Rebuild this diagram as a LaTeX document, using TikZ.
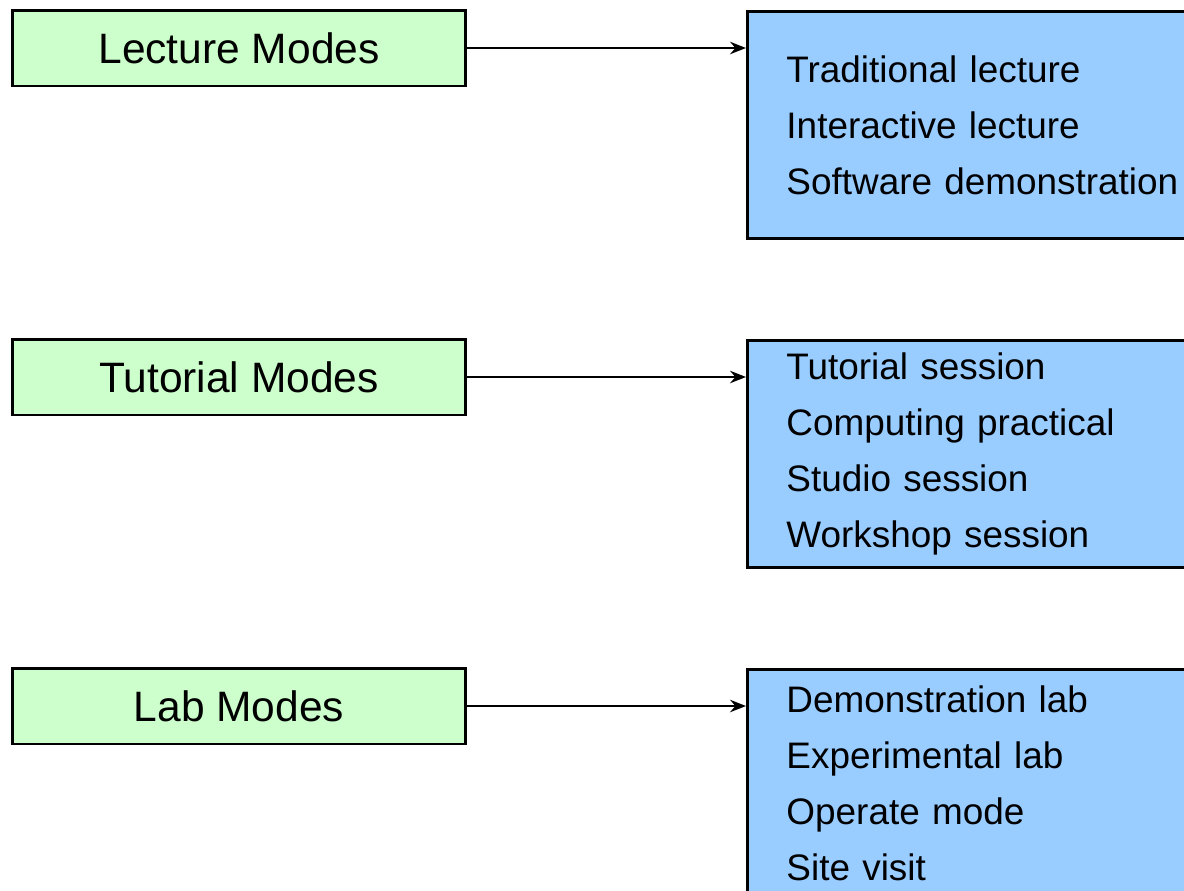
\documentclass[tikz,border=0pt]{standalone}
\usepackage{fontspec}
\setmainfont{Liberation Sans}
\usetikzlibrary{positioning,calc,arrows.meta}
\definecolor{modegreen}{HTML}{CCFFCC}
\definecolor{listblue}{HTML}{99CCFF}
\tikzset{
	modebox/.style={draw=black, line width=1.7pt, fill=modegreen, minimum width=9.08cm, minimum height=1.52cm, inner sep=0pt, font=\fontsize{24.2}{28}\selectfont},
	listbox/.style={draw=black, line width=1.7pt, fill=listblue, anchor=north west, minimum height=4.54cm, text width=12cm, inner xsep=0.78cm, inner ysep=0pt, align=left, font=\fontsize{21}{31.9}\selectfont},
	link/.style={-{Stealth[length=9pt,width=7pt]}, line width=1.5pt}
}

\begin{document}
\begin{tikzpicture}[x=0.02cm, y=-0.02cm]
	\useasboundingbox (0, 0) rectangle (1184, 890);
	\clip (0, 0) rectangle (1184, 890);

	\node[modebox] (lec) at (239, 48) {Lecture Modes};
	\node[modebox] (tut) at (239, 377) {Tutorial Modes};
	\node[modebox] (lab) at (239, 706) {Lab Modes};

	\node[listbox] (leclist) at (746, 10) {Traditional lecture\\Interactive lecture\\Software demonstration};
	\node[listbox] (tutlist) at (746, 339) {Tutorial session\\Computing practical\\Studio session\\Workshop session};
	\node[listbox] (lablist) at (746, 668) {Demonstration lab\\Experimental lab\\Operate mode\\Site visit};

	\draw [link] (lec.east) to (lec.east -| leclist.west);
	\draw [link] (tut.east) to (tut.east -| tutlist.west);
	\draw [link] (lab.east) to (lab.east -| lablist.west);
\end{tikzpicture}
\end{document}
